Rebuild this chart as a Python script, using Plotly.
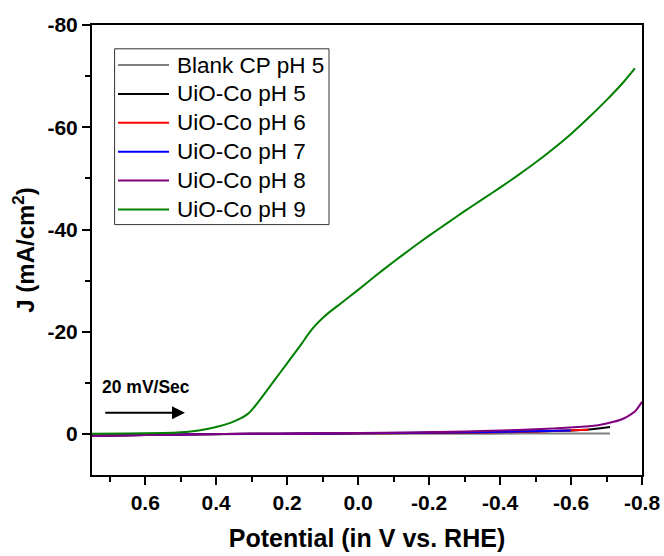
import plotly.graph_objects as go

# ---- data ----
names = ["Blank CP pH 5", "UiO-Co pH 5", "UiO-Co pH 6", "UiO-Co pH 7", "UiO-Co pH 8", "UiO-Co pH 9"]
colors = ["#808080", "#000000", "#ff0000", "#0000ff", "#800080", "#008000"]

pot_blank = [0.75, 0.6, 0.45, 0.3, 0.15, 0.0, -0.15, -0.3, -0.45, -0.6, -0.71]
j_blank = [0.3, 0.2, 0.1, 0.0, 0.0, -0.05, -0.05, -0.05, -0.1, -0.1, -0.1]

pot_ph5 = [0.75, 0.6, 0.45, 0.3, 0.15, 0.0, -0.15, -0.3, -0.45, -0.55, -0.65, -0.71]
j_ph5 = [0.3, 0.2, 0.05, -0.05, -0.1, -0.15, -0.2, -0.3, -0.45, -0.6, -0.9, -1.4]

pot_ph6 = [0.75, 0.6, 0.45, 0.3, 0.15, 0.0, -0.15, -0.3, -0.45, -0.55, -0.65]
j_ph6 = [0.3, 0.2, 0.05, -0.05, -0.1, -0.15, -0.22, -0.32, -0.45, -0.6, -0.85]

pot_ph7 = [0.75, 0.6, 0.45, 0.3, 0.15, 0.0, -0.15, -0.3, -0.45, -0.6]
j_ph7 = [0.3, 0.2, 0.05, -0.05, -0.1, -0.15, -0.25, -0.35, -0.5, -0.7]

pot_ph8 = [0.75, 0.6, 0.45, 0.3, 0.15, 0.0, -0.15, -0.3, -0.45, -0.55, -0.62, -0.68, -0.72, -0.75, -0.78, -0.8]
j_ph8 = [0.35, 0.2, 0.05, -0.05, -0.1, -0.2, -0.3, -0.5, -0.8, -1.1, -1.4, -1.8, -2.4, -3.1, -4.4, -6.3]

pot_ph9 = [0.75, 0.65, 0.55, 0.50, 0.45, 0.40, 0.36, 0.33, 0.31, 0.30, 0.28, 0.25, 0.22, 0.19,
           0.16, 0.14, 0.12, 0.10, 0.08, 0.05, 0.0, -0.05, -0.10, -0.15, -0.20, -0.25, -0.30,
           -0.35, -0.40, -0.45, -0.50, -0.55, -0.60, -0.65, -0.70, -0.75, -0.78]
j_ph9 = [-0.05, -0.1, -0.2, -0.35, -0.7, -1.4, -2.2, -3.1, -4.0, -4.7, -6.4, -9.2, -12.0, -14.8,
         -17.6, -19.6, -21.3, -22.7, -23.9, -25.5, -28.2, -31.0, -33.7, -36.3, -38.8, -41.2, -43.6,
         -45.9, -48.2, -50.6, -53.1, -55.8, -58.7, -61.9, -65.3, -69.0, -71.5]

xs = [pot_blank, pot_ph5, pot_ph6, pot_ph7, pot_ph8, pot_ph9]
ys = [j_blank, j_ph5, j_ph6, j_ph7, j_ph8, j_ph9]

x_tickvals = [0.6, 0.4, 0.2, 0.0, -0.2, -0.4, -0.6, -0.8]
x_ticktext = ["0.6", "0.4", "0.2", "0.0", "-0.2", "-0.4", "-0.6", "-0.8"]
y_tickvals = [-80, -60, -40, -20, 0]
y_ticktext = ["-80", "-60", "-40", "-20", "0"]

scan_label = "20 mV/Sec"
arrow_tail = (0.717, -4.16)
arrow_head = (0.488, -4.16)
label_pos = (0.598, -9.3)

FONT = "Liberation Sans, Arial, sans-serif"

# plot area in pixels
W, H = 664, 556
ML, MR, MT, MB = 92, 22, 25, 81
PW, PH = W - ML - MR, H - MT - MB


def px(xp):
    return (xp - ML) / PW


def py(yp):
    return 1 - (yp - MT) / PH


fig = go.Figure()
for n, c, x, y in zip(names, colors, xs, ys):
    fig.add_trace(go.Scatter(x=x, y=y, mode="lines", name=n, showlegend=False,
                             line=dict(color=c, width=2, shape="spline", smoothing=0.5)))

axis_common = dict(
    showline=True, linecolor="black", linewidth=2, mirror=True,
    ticks="outside", ticklen=8, tickwidth=2, tickcolor="black",
    showgrid=False, zeroline=False,
    tickfont=dict(family=FONT, size=21, color="black", weight="bold"),
)

fig.update_xaxes(
    range=[0.75, -0.8], tickmode="array", tickvals=x_tickvals, ticktext=x_ticktext,
    minor=dict(ticks="outside", ticklen=5, tickwidth=2, tickcolor="black", dtick=0.1, tick0=0),
    title=dict(text="Potential (in V vs. RHE)", font=dict(family=FONT, size=25, color="black", weight="bold"), standoff=16),
    **axis_common,
)
fig.update_yaxes(
    range=[8.0, -80], tickmode="array", tickvals=y_tickvals, ticktext=y_ticktext,
    minor=dict(ticks="outside", ticklen=5, tickwidth=2, tickcolor="black", dtick=10, tick0=0),
    title=dict(text="J (mA/cm<sup>2</sup>)", font=dict(family=FONT, size=24, color="black", weight="bold"), standoff=6),
    **axis_common,
)

fig.add_annotation(x=arrow_head[0], y=arrow_head[1], ax=arrow_tail[0], ay=arrow_tail[1],
                   xref="x", yref="y", axref="x", ayref="y", text="", showarrow=True,
                   arrowhead=2, arrowsize=1.3, arrowwidth=2, arrowcolor="black", standoff=0)
fig.add_annotation(x=label_pos[0], y=label_pos[1], xref="x", yref="y", text=scan_label,
                   showarrow=False, font=dict(family=FONT, size=17.5, color="black", weight="bold"))

# ---- legend box (drawn to match the reference's tight spacing) ----
box_l, box_r, box_t, box_b = 114.6, 329.0, 48.8, 224.6
row0, row_gap = 65.0, 28.9
fig.add_shape(type="rect", xref="paper", yref="paper",
              x0=px(box_l), x1=px(box_r), y0=py(box_b), y1=py(box_t),
              line=dict(color="#333333", width=1), fillcolor="white", layer="above")
for i, (n, c) in enumerate(zip(names, colors)):
    yy = py(row0 + i * row_gap)
    fig.add_shape(type="line", xref="paper", yref="paper",
                  x0=px(118), x1=px(169), y0=yy, y1=yy,
                  line=dict(color=c, width=2), layer="above")
    fig.add_annotation(x=px(175), y=yy, xref="paper", yref="paper", text=n,
                       xanchor="left", yanchor="middle", showarrow=False,
                       font=dict(family=FONT, size=22.5, color="black"))

fig.update_layout(
    width=W, height=H,
    margin=dict(l=ML, r=MR, t=MT, b=MB, autoexpand=False),
    paper_bgcolor="white", plot_bgcolor="white",
    showlegend=False,
)

fig.write_html("out.html")
